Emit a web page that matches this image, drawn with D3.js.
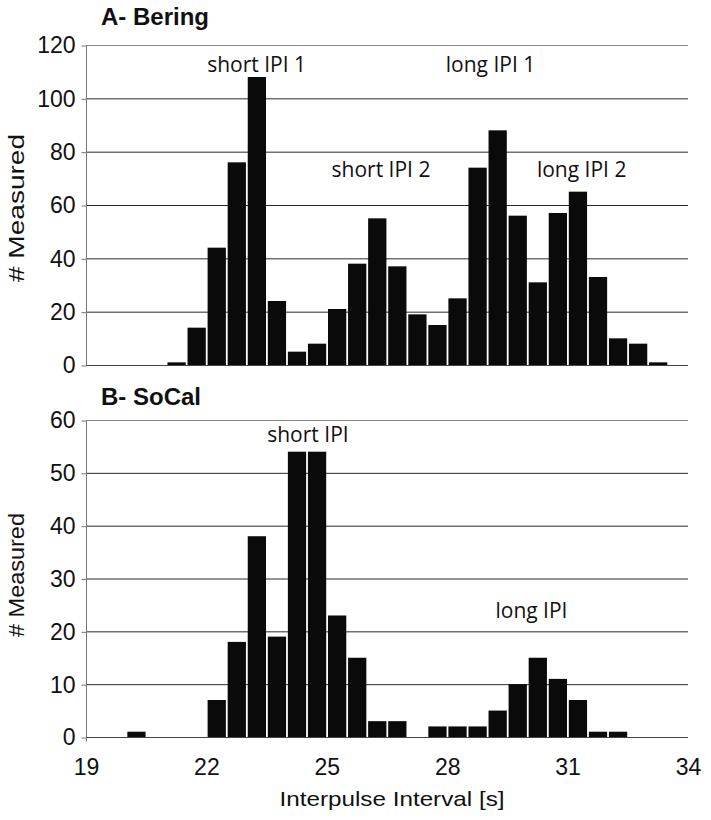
<!DOCTYPE html>
<html>
<head>
<meta charset="utf-8">
<script src="https://cdn.jsdelivr.net/npm/d3@7"></script>
<style>
  body { margin: 0; background: #fff; }
  svg { display: block; }
</style>
</head>
<body>
<div id="container"></div>
<script>
// bin starts (0.5 s bins) and counts
let beringBins = [21, 21.5, 22, 22.5, 23, 23.5, 24, 24.5, 25, 25.5, 26, 26.5, 27,
                  27.5, 28, 28.5, 29, 29.5, 30, 30.5, 31, 31.5, 32, 32.5, 33];
let beringCounts = [1, 14, 44, 76, 108, 24, 5, 8, 21, 38, 55, 37, 19,
                    15, 25, 74, 88, 56, 31, 57, 65, 33, 10, 8, 1];

let socalBins = [20, 20.5, 21, 21.5, 22, 22.5, 23, 23.5, 24, 24.5, 25, 25.5, 26,
                 26.5, 27, 27.5, 28, 28.5, 29, 29.5, 30, 30.5, 31, 31.5, 32];
let socalCounts = [1, 0, 0, 0, 7, 18, 38, 19, 54, 54, 23, 15, 3,
                   3, 0, 2, 2, 2, 5, 10, 15, 11, 7, 1, 1];

let beringTicks = [0, 20, 40, 60, 80, 100, 120];
let socalTicks = [0, 10, 20, 30, 40, 50, 60];
let xTicks = [19, 22, 25, 28, 31, 34];

let beringNotes = [
  {text: "short IPI 1", x: 23.25, y: 110},
  {text: "long IPI 1", x: 29.08, y: 110},
  {text: "short IPI 2", x: 26.35, y: 70.6},
  {text: "long IPI 2", x: 31.35, y: 70.6}
];
let socalNotes = [
  {text: "short IPI", x: 24.53, y: 55.9},
  {text: "long IPI", x: 30.1, y: 22.5}
];

let w = 711;
let h = 820;
let left = 86, right = 688;
let binW = 0.5;

let svg = d3.select("#container")
  .append("svg")
  .attr("width", w)
  .attr("height", h);

let x = d3.scaleLinear().domain([19, 34]).range([left, right]);

function panel(bins, counts, ticks, notes, top, bottom, title, titleY, ylabLen, ylabY) {
  let y = d3.scaleLinear().domain([0, d3.max(ticks)]).range([bottom, top]);
  let g = svg.append("g");

  // gridlines
  g.selectAll(".grid")
    .data(ticks.filter(t => t > 0))
    .enter()
    .append("line")
    .attr("x1", left).attr("x2", right)
    .attr("y1", d => y(d) + 0.5).attr("y2", d => y(d) + 0.5)
    .attr("stroke", (d, i, a) => i == a.length - 1 ? "#8a8a8a" : "#2a2a2a")
    .attr("stroke-width", 1);

  // bars
  g.selectAll(".bar")
    .data(bins.map((b, i) => ({b: b, v: counts[i]})).filter(d => d.v > 0))
    .enter()
    .append("rect")
    .attr("x", d => x(d.b) + 1.2)
    .attr("width", d => x(d.b + binW) - x(d.b) - 1.8)
    .attr("y", d => y(d.v))
    .attr("height", d => y(0) - y(d.v))
    .attr("fill", "#0a0a0a");

  // baseline
  g.append("line")
    .attr("x1", left).attr("x2", right)
    .attr("y1", y(0) + 0.5).attr("y2", y(0) + 0.5)
    .attr("stroke", "#444");

  // y axis
  let yAxis = d3.axisLeft(y).tickValues(ticks).tickSize(5).tickPadding(6);
  let ya = g.append("g")
    .attr("transform", "translate(" + (left + 0.5) + ",0.5)")
    .call(yAxis);
  ya.select(".domain").attr("stroke", "#777")
    .attr("d", "M0," + (top) + "V" + (bottom + (title[0] == "B" ? 4 : 0)));
  ya.selectAll(".tick line").attr("stroke", "#777");
  ya.selectAll("text")
    .attr("font-family", "Liberation Sans, Arial, sans-serif")
    .attr("font-size", 23)
    .attr("fill", "#111");

  // annotations
  g.selectAll(".note")
    .data(notes)
    .enter()
    .append("text")
    .attr("x", d => x(d.x))
    .attr("y", d => y(d.y))
    .attr("text-anchor", "middle")
    .attr("font-family", "Open Sans, sans-serif")
    .attr("font-size", 21)
    .attr("fill", "#111")
    .text(d => d.text);

  // panel title
  svg.append("text")
    .attr("x", 101)
    .attr("y", titleY)
    .attr("font-family", "Liberation Sans, Arial, sans-serif")
    .attr("font-weight", "bold")
    .attr("font-size", 24)
    .attr("fill", "#111")
    .text(title);

  // y label
  svg.append("text")
    .attr("transform", "translate(24," + ylabY + ") rotate(-90)")
    .attr("text-anchor", "middle")
    .attr("font-family", "Liberation Sans, Arial, sans-serif")
    .attr("font-size", 22)
    .attr("textLength", ylabLen)
    .attr("lengthAdjust", "spacingAndGlyphs")
    .attr("fill", "#111")
    .text("# Measured");

  return y;
}

panel(beringBins, beringCounts, beringTicks, beringNotes, 45, 365, "A- Bering", 25, 148, 208);
let ySo = panel(socalBins, socalCounts, socalTicks, socalNotes, 420, 737, "B- SoCal", 405, 124, 575);

// x axis (bottom panel)
let xa = svg.append("g")
  .attr("transform", "translate(0," + ySo(0) + ")")
  .call(d3.axisBottom(x).tickValues(xTicks).tickSize(0).tickPadding(22).tickFormat(d3.format("d")));
xa.select(".domain").remove();
xa.selectAll("text")
  .attr("font-family", "Liberation Sans, Arial, sans-serif")
  .attr("font-size", 23)
  .attr("fill", "#111");

svg.append("text")
  .attr("x", 392)
  .attr("y", 806)
  .attr("text-anchor", "middle")
  .attr("font-family", "Liberation Sans, Arial, sans-serif")
  .attr("font-size", 21)
  .attr("textLength", 225)
  .attr("lengthAdjust", "spacingAndGlyphs")
  .attr("fill", "#111")
  .text("Interpulse Interval [s]");
</script>
</body>
</html>
